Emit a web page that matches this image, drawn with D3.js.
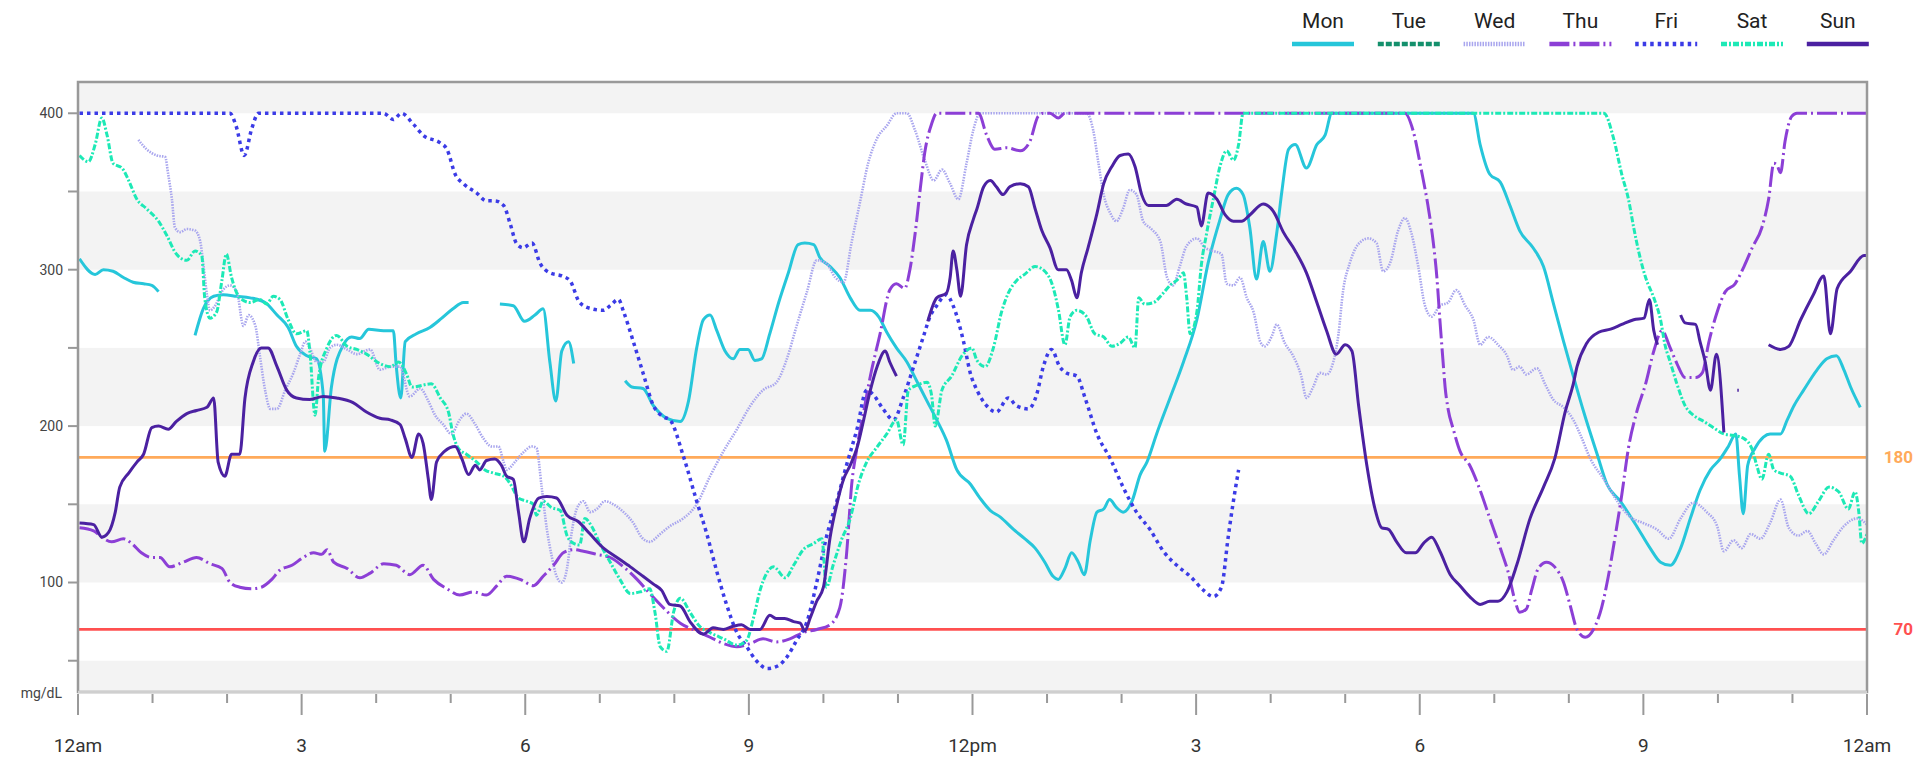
<!DOCTYPE html>
<html>
<head>
<meta charset="utf-8">
<script src="https://cdn.jsdelivr.net/npm/d3@7"></script>
<style>
  body { margin: 0; background: #fff; }
  text { font-family: Roboto, "Noto Sans", sans-serif; }
</style>
</head>
<body>
<div id="chart"></div>
<script>
// Day names, legend order
const days = ["Mon", "Tue", "Wed", "Thu", "Fri", "Sat", "Sun"];

// Readings per day: [hour of day, mg/dL]; null marks a gap in the trace
const mon = [
  [0.02,307],[0.23,297],[0.34,300],[0.47,299],[0.61,295],[0.74,292],[0.88,291],[0.99,290],[1.08,286],[1.09,null],
  [1.57,258],[1.68,275],[1.82,283],[1.95,284],[2.13,283],[2.31,282],[2.51,279],[2.67,271],[2.82,263],[2.93,251],[3.07,245],[3.2,243],[3.29,220],[3.31,184],[3.4,225],[3.56,252],[3.67,257],[3.78,256],[3.9,262],[4.1,261],[4.23,261],[4.27,238],[4.33,218],[4.39,254],[4.54,259],[4.72,263],[4.88,269],[5.03,275],[5.17,279],[5.24,279],[5.25,null],
  [5.66,278],[5.84,277],[5.99,267],[6.13,271],[6.24,275],[6.33,241],[6.41,216],[6.49,248],[6.58,254],[6.65,240],[6.66,null],
  [7.34,229],[7.43,225],[7.58,224],[7.72,213],[7.9,205],[8.08,203],[8.19,216],[8.3,250],[8.39,268],[8.48,271],[8.57,261],[8.68,248],[8.79,243],[8.88,249],[8.99,249],[9.08,242],[9.17,243],[9.28,259],[9.4,279],[9.53,298],[9.66,316],[9.75,317],[9.87,316],[9.95,308],[10.09,302],[10.22,295],[10.36,282],[10.49,274],[10.63,274],[10.74,270],[10.85,260],[10.98,250],[11.12,241],[11.25,229],[11.39,216],[11.52,204],[11.65,191],[11.79,172],[11.97,163],[12.1,154],[12.24,146],[12.37,142],[12.55,134],[12.7,128],[12.84,122],[12.97,113],[13.08,104],[13.15,102],[13.24,109],[13.33,119],[13.42,113],[13.5,105],[13.58,127],[13.67,145],[13.76,147],[13.84,153],[13.93,148],[14.02,145],[14.14,152],[14.25,169],[14.34,177],[14.47,195],[14.65,218],[14.83,241],[15.01,268],[15.16,304],[15.32,332],[15.43,348],[15.54,352],[15.63,348],[15.72,327],[15.81,294],[15.9,318],[15.99,299],[16.08,323],[16.15,350],[16.24,377],[16.33,380],[16.48,365],[16.62,380],[16.73,386],[16.82,400],[18.72,400],[18.81,380],[18.94,361],[19.08,356],[19.21,341],[19.34,325],[19.52,314],[19.66,302],[19.79,279],[19.93,254],[20.06,232],[20.2,209],[20.38,182],[20.51,163],[20.69,152],[20.91,136],[21.09,122],[21.23,113],[21.36,111],[21.5,122],[21.63,141],[21.76,159],[21.9,172],[22.03,179],[22.14,187],[22.24,195],[22.29,168],[22.34,144],[22.4,175],[22.5,186],[22.61,193],[22.7,195],[22.84,195],[22.93,204],[23.02,213],[23.15,223],[23.33,236],[23.46,243],[23.59,245],[23.69,236],[23.78,225],[23.91,212]
];

const tue = [];

const wed = [
  [0.81,383],[0.92,377],[1.06,373],[1.17,372],[1.21,361],[1.26,345],[1.3,327],[1.37,324],[1.46,326],[1.57,325],[1.64,318],[1.68,304],[1.73,284],[1.77,274],[1.84,277],[1.93,286],[2.04,290],[2.13,286],[2.22,264],[2.29,271],[2.38,264],[2.44,245],[2.51,223],[2.58,211],[2.67,211],[2.78,223],[2.89,234],[2.98,246],[3.05,254],[3.11,250],[3.2,241],[3.29,241],[3.38,250],[3.47,252],[3.61,249],[3.74,246],[3.92,249],[4.05,236],[4.19,238],[4.32,238],[4.45,219],[4.59,224],[4.7,216],[4.79,207],[4.9,201],[5.01,195],[5.12,204],[5.21,208],[5.33,201],[5.44,192],[5.55,187],[5.64,187],[5.71,177],[5.75,172],[5.86,177],[5.97,183],[6.09,187],[6.15,186],[6.22,161],[6.29,134],[6.35,118],[6.42,104],[6.49,100],[6.56,109],[6.62,131],[6.69,147],[6.78,152],[6.87,145],[6.96,147],[7.07,152],[7.18,150],[7.32,145],[7.45,138],[7.56,129],[7.67,126],[7.81,131],[7.94,136],[8.12,141],[8.3,150],[8.48,168],[8.66,184],[8.84,198],[9.02,213],[9.19,223],[9.37,228],[9.51,243],[9.64,264],[9.78,286],[9.91,306],[10.04,304],[10.16,295],[10.27,292],[10.38,318],[10.49,343],[10.6,368],[10.72,384],[10.85,392],[10.98,400],[11.12,400],[11.23,389],[11.36,370],[11.48,357],[11.59,364],[11.7,355],[11.81,345],[11.92,368],[12.01,389],[12.1,400],[13.53,400],[13.62,389],[13.69,368],[13.76,348],[13.85,336],[13.93,331],[14.02,339],[14.11,351],[14.2,348],[14.29,331],[14.4,326],[14.52,318],[14.61,295],[14.69,290],[14.78,302],[14.87,315],[15.01,320],[15.12,314],[15.23,312],[15.34,310],[15.41,291],[15.5,290],[15.59,295],[15.68,282],[15.77,273],[15.86,254],[15.92,251],[16.02,258],[16.08,265],[16.19,253],[16.3,245],[16.41,232],[16.48,218],[16.57,225],[16.66,234],[16.75,233],[16.84,241],[16.91,259],[16.97,286],[17.06,304],[17.17,316],[17.31,320],[17.42,317],[17.51,299],[17.6,304],[17.71,325],[17.8,333],[17.89,323],[17.98,302],[18.07,277],[18.16,270],[18.27,277],[18.38,279],[18.49,287],[18.61,277],[18.72,268],[18.81,252],[18.92,257],[19.05,252],[19.17,245],[19.25,236],[19.34,238],[19.43,233],[19.57,237],[19.68,227],[19.79,217],[19.93,212],[20.06,204],[20.15,195],[20.29,179],[20.47,166],[20.65,152],[20.82,142],[21.0,138],[21.18,134],[21.34,128],[21.5,141],[21.67,151],[21.85,145],[21.99,136],[22.08,120],[22.21,127],[22.32,122],[22.44,131],[22.57,128],[22.7,138],[22.84,153],[22.95,135],[23.08,130],[23.2,133],[23.31,125],[23.42,118],[23.55,127],[23.69,136],[23.87,141],[24,137]
];

const thu = [
  [0.02,135],[0.21,133],[0.32,129],[0.45,126],[0.61,128],[0.72,125],[0.85,119],[0.99,116],[1.1,116],[1.23,110],[1.41,113],[1.59,116],[1.77,112],[1.93,109],[2.04,100],[2.17,97],[2.33,96],[2.46,97],[2.6,102],[2.71,108],[2.87,111],[3.02,116],[3.16,119],[3.27,118],[3.34,121],[3.43,113],[3.61,109],[3.78,103],[3.92,106],[4.1,112],[4.27,111],[4.45,105],[4.63,111],[4.77,102],[4.95,96],[5.12,92],[5.3,94],[5.48,92],[5.62,98],[5.75,104],[5.93,102],[6.11,98],[6.24,104],[6.38,111],[6.51,119],[6.65,121],[6.78,120],[6.96,118],[7.14,116],[7.32,110],[7.5,102],[7.67,93],[7.85,84],[8.08,74],[8.3,69],[8.48,65],[8.66,61],[8.84,59],[9.02,61],[9.19,64],[9.37,62],[9.55,64],[9.73,68],[9.91,70],[10.09,73],[10.22,84],[10.31,118],[10.38,163],[10.45,186],[10.54,209],[10.63,232],[10.76,259],[10.89,287],[10.98,291],[11.09,288],[11.16,300],[11.23,323],[11.3,352],[11.36,375],[11.45,393],[11.52,400],[12.08,400],[12.19,386],[12.3,377],[12.46,378],[12.64,376],[12.77,382],[12.88,398],[12.95,400],[13.04,400],[13.15,397],[13.24,400],[17.8,400],[17.91,389],[18.02,364],[18.11,341],[18.18,318],[18.23,295],[18.27,268],[18.31,243],[18.34,225],[18.38,211],[18.45,198],[18.54,184],[18.67,175],[18.81,159],[18.94,141],[19.08,122],[19.19,106],[19.28,88],[19.34,81],[19.43,83],[19.5,95],[19.59,109],[19.7,113],[19.81,110],[19.93,100],[20.02,85],[20.11,70],[20.22,65],[20.33,70],[20.44,84],[20.53,104],[20.62,129],[20.71,156],[20.8,186],[20.91,209],[21.03,227],[21.14,248],[21.25,261],[21.36,250],[21.45,240],[21.56,231],[21.7,231],[21.79,234],[21.88,254],[21.99,273],[22.1,286],[22.23,291],[22.35,302],[22.46,314],[22.59,327],[22.68,345],[22.75,368],[22.79,367],[22.84,362],[22.9,382],[22.99,398],[23.06,400],[24,400]
];

const fri = [
  [0.02,400],[2.04,400],[2.12,392],[2.23,373],[2.33,390],[2.42,400],[4.1,400],[4.23,396],[4.34,400],[4.5,393],[4.63,386],[4.86,381],[4.95,377],[5.06,361],[5.17,355],[5.35,349],[5.48,344],[5.59,344],[5.71,341],[5.8,329],[5.88,317],[5.97,314],[6.09,317],[6.2,304],[6.33,298],[6.49,296],[6.6,293],[6.73,279],[6.89,275],[7.05,274],[7.14,277],[7.25,281],[7.32,273],[7.45,254],[7.58,234],[7.72,213],[7.85,206],[7.94,204],[8.12,181],[8.3,152],[8.43,132],[8.57,107],[8.7,86],[8.84,68],[8.97,59],[9.1,50],[9.25,45],[9.4,47],[9.52,53],[9.64,63],[9.78,75],[9.91,100],[10.04,129],[10.18,152],[10.31,175],[10.45,198],[10.58,223],[10.67,220],[10.8,211],[10.94,204],[11.07,218],[11.21,238],[11.34,257],[11.43,270],[11.52,277],[11.65,284],[11.74,277],[11.88,254],[11.97,234],[12.06,223],[12.19,213],[12.32,209],[12.48,218],[12.59,213],[12.75,211],[12.86,220],[12.95,238],[13.06,249],[13.17,238],[13.26,234],[13.4,232],[13.51,218],[13.67,195],[13.85,179],[14.02,161],[14.2,145],[14.38,134],[14.56,120],[14.74,111],[14.92,104],[15.1,95],[15.23,91],[15.34,97],[15.43,129],[15.5,152],[15.57,172]
];

const sat = [
  [0.02,373],[0.14,369],[0.23,380],[0.32,397],[0.39,386],[0.47,368],[0.59,365],[0.68,357],[0.79,345],[0.92,339],[1.08,331],[1.19,322],[1.32,310],[1.46,306],[1.57,312],[1.66,309],[1.7,282],[1.77,269],[1.86,273],[1.93,293],[1.99,310],[2.06,295],[2.17,282],[2.31,279],[2.44,281],[2.53,278],[2.62,283],[2.71,281],[2.82,268],[2.93,259],[3.07,261],[3.11,248],[3.18,207],[3.23,232],[3.34,250],[3.47,258],[3.61,251],[3.74,249],[3.87,246],[4.05,240],[4.19,238],[4.3,241],[4.41,233],[4.48,225],[4.74,227],[4.86,218],[4.97,209],[5.03,195],[5.1,186],[5.21,182],[5.35,177],[5.46,172],[5.57,170],[5.71,168],[5.8,163],[5.91,154],[6.02,152],[6.11,150],[6.15,143],[6.24,152],[6.35,148],[6.47,146],[6.56,130],[6.65,125],[6.73,124],[6.8,141],[6.89,136],[7.0,125],[7.14,113],[7.27,102],[7.41,93],[7.54,94],[7.67,96],[7.74,81],[7.81,59],[7.9,56],[7.99,81],[8.08,90],[8.21,81],[8.34,72],[8.48,68],[8.66,64],[8.84,60],[8.97,63],[9.06,77],[9.15,95],[9.24,106],[9.33,110],[9.49,103],[9.6,111],[9.73,121],[9.87,125],[9.98,128],[10.04,97],[10.13,111],[10.24,127],[10.36,141],[10.47,163],[10.58,177],[10.71,186],[10.85,195],[10.98,204],[11.07,188],[11.14,223],[11.25,226],[11.39,228],[11.45,220],[11.5,200],[11.59,223],[11.72,232],[11.86,245],[11.99,250],[12.06,242],[12.17,238],[12.28,250],[12.39,273],[12.48,285],[12.59,293],[12.7,297],[12.84,302],[12.97,299],[13.08,289],[13.15,275],[13.24,252],[13.31,270],[13.4,274],[13.53,270],[13.64,259],[13.76,257],[13.87,251],[13.98,253],[14.09,257],[14.18,250],[14.23,282],[14.31,278],[14.43,279],[14.54,284],[14.65,290],[14.76,294],[14.83,298],[14.87,284],[14.92,259],[15.01,273],[15.07,303],[15.14,323],[15.23,345],[15.32,366],[15.41,376],[15.5,370],[15.57,380],[15.63,400],[20.47,400],[20.6,384],[20.71,361],[20.8,345],[20.87,327],[20.94,311],[21.03,295],[21.14,282],[21.23,268],[21.29,252],[21.36,241],[21.45,227],[21.56,213],[21.67,207],[21.81,203],[21.94,199],[22.08,195],[22.21,194],[22.35,192],[22.46,185],[22.52,175],[22.59,166],[22.68,182],[22.75,172],[22.84,170],[22.97,168],[23.08,156],[23.22,144],[23.35,152],[23.49,161],[23.62,158],[23.75,147],[23.84,158],[23.89,145],[23.93,125],[24,131]
];

const sun = [
  [0.02,138],[0.21,137],[0.32,129],[0.41,132],[0.5,145],[0.56,161],[0.68,170],[0.79,177],[0.88,182],[0.99,199],[1.08,200],[1.21,198],[1.32,203],[1.46,208],[1.59,210],[1.73,212],[1.82,218],[1.88,177],[1.97,168],[2.06,182],[2.17,182],[2.24,218],[2.35,241],[2.46,250],[2.55,250],[2.67,238],[2.8,223],[2.93,218],[3.11,217],[3.29,219],[3.47,218],[3.69,215],[3.87,209],[4.05,205],[4.19,204],[4.32,201],[4.39,192],[4.48,180],[4.57,195],[4.63,189],[4.7,166],[4.74,153],[4.81,177],[4.92,184],[5.06,187],[5.15,179],[5.24,169],[5.33,175],[5.39,172],[5.48,178],[5.59,179],[5.68,175],[5.75,168],[5.84,166],[5.91,145],[5.98,126],[6.06,141],[6.18,154],[6.29,155],[6.42,154],[6.56,143],[6.71,139],[6.87,131],[7.05,122],[7.23,116],[7.41,110],[7.58,104],[7.72,99],[7.83,95],[7.94,86],[8.08,85],[8.21,75],[8.39,67],[8.52,71],[8.66,70],[8.79,72],[8.9,73],[9.02,70],[9.15,70],[9.28,79],[9.37,77],[9.48,77],[9.6,75],[9.69,74],[9.75,69],[9.82,77],[9.91,88],[10.0,97],[10.09,129],[10.18,150],[10.27,166],[10.36,175],[10.45,186],[10.54,204],[10.63,223],[10.72,238],[10.83,248],[10.89,241],[10.98,232],[10.99,null],
  [11.4,267],[11.52,282],[11.65,285],[11.7,295],[11.74,312],[11.79,300],[11.84,283],[11.92,316],[12.01,332],[12.06,339],[12.15,353],[12.24,357],[12.32,353],[12.41,348],[12.5,353],[12.64,355],[12.75,353],[12.84,339],[12.93,325],[13.04,314],[13.15,300],[13.26,300],[13.33,293],[13.4,282],[13.46,298],[13.55,314],[13.67,336],[13.76,355],[13.87,366],[13.98,373],[14.09,374],[14.18,366],[14.27,348],[14.36,341],[14.47,341],[14.6,341],[14.74,345],[14.87,342],[15.01,340],[15.07,328],[15.16,349],[15.28,345],[15.39,335],[15.5,331],[15.61,331],[15.72,335],[15.9,342],[16.04,337],[16.17,324],[16.33,312],[16.48,298],[16.62,279],[16.75,261],[16.88,246],[17.0,252],[17.09,248],[17.18,213],[17.29,175],[17.4,147],[17.49,135],[17.58,134],[17.69,126],[17.82,119],[17.94,119],[18.05,125],[18.16,129],[18.27,120],[18.41,105],[18.54,98],[18.67,91],[18.81,86],[18.94,88],[19.05,88],[19.17,94],[19.3,111],[19.48,141],[19.66,161],[19.81,179],[19.95,209],[20.06,227],[20.11,238],[20.24,253],[20.4,260],[20.56,262],[20.71,265],[20.87,268],[21.01,269],[21.08,281],[21.14,261],[21.19,252],[21.2,null],
  [21.5,271],[21.56,266],[21.7,265],[21.76,254],[21.83,241],[21.9,223],[21.98,246],[22.08,196],[22.09,null],
  [22.26,223],[22.28,223],[22.29,null],
  [22.68,252],[22.84,249],[22.95,251],[23.11,268],[23.28,284],[23.42,296],[23.51,259],[23.6,288],[23.78,299],[23.96,309],[24,309]
];

const series = [mon, tue, wed, thu, fri, sat, sun];

// Axis values
const yTicks = d3.range(50, 401, 50);
const yLabelValues = [100, 200, 300, 400];
const xHours = d3.range(0, 25);
const xLabels = ["12am", "3", "6", "9", "12pm", "3", "6", "9", "12am"];
const bands = [[400, 420], [300, 350], [200, 250], [100, 150], [30, 50]];
const thresholds = [180, 70];

// Styles
const colors = ["#26c6da", "#14906c", "#a9a6ee", "#8c3fd6", "#3b3be6", "#1de9b6", "#4b21a1"];
const dashes = [null, "6,2", "1.5,1.2", "20,4,2,4", "3.5,4", "6,2,2,2", null];
const widths = [3, 3, 2.6, 3, 3.5, 3, 3];
const thresholdColors = ["#ffaa5a", "#ff5050"];

const width = 1921;
const height = 760;
const plotLeft = 78, plotRight = 1867, plotTop = 82, plotBottom = 692;

const svg = d3.select("#chart").append("svg")
    .attr("width", width)
    .attr("height", height);

const x = d3.scaleLinear().domain([0, 24]).range([plotLeft, plotRight]);
const y = d3.scaleLinear().domain([30, 420]).range([plotBottom, plotTop]);

// Background bands
svg.append("g")
  .selectAll("rect")
  .data(bands)
  .enter().append("rect")
    .attr("x", plotLeft)
    .attr("width", plotRight - plotLeft)
    .attr("y", d => y(d[1]))
    .attr("height", d => y(d[0]) - y(d[1]))
    .attr("fill", "#f3f3f3");

// Threshold lines
svg.append("g")
  .selectAll("line")
  .data(thresholds)
  .enter().append("line")
    .attr("x1", plotLeft).attr("x2", plotRight)
    .attr("y1", d => y(d)).attr("y2", d => y(d))
    .attr("stroke", (d, i) => thresholdColors[i])
    .attr("stroke-width", 2.8);

svg.append("g")
  .selectAll("text")
  .data(thresholds)
  .enter().append("text")
    .attr("x", 1913)
    .attr("y", d => y(d))
    .attr("dy", "0.35em")
    .attr("text-anchor", "end")
    .attr("font-size", 17)
    .attr("font-weight", "bold")
    .attr("fill", (d, i) => thresholdColors[i])
    .text(d => d);

// Day traces
const line = d3.line()
    .defined(d => d[1] != null)
    .x(d => x(d[0]))
    .y(d => y(d[1]))
    .curve(d3.curveMonotoneX);

svg.append("defs").append("clipPath").attr("id", "clip")
  .append("rect")
    .attr("x", plotLeft).attr("y", plotTop)
    .attr("width", plotRight - plotLeft).attr("height", plotBottom - plotTop);

svg.append("g")
    .attr("clip-path", "url(#clip)")
  .selectAll("path")
  .data(series)
  .enter().append("path")
    .attr("d", d => d.length ? line(d) : null)
    .attr("fill", "none")
    .attr("stroke", (d, i) => colors[i])
    .attr("stroke-width", (d, i) => widths[i])
    .attr("stroke-dasharray", (d, i) => dashes[i])
    .attr("stroke-linejoin", "round");

// Frame
svg.append("rect")
    .attr("x", plotLeft).attr("y", plotTop)
    .attr("width", plotRight - plotLeft).attr("height", plotBottom - plotTop)
    .attr("fill", "none")
    .attr("stroke", "#999")
    .attr("stroke-width", 2.5);
svg.append("line")
    .attr("x1", plotLeft).attr("x2", plotRight)
    .attr("y1", plotBottom).attr("y2", plotBottom)
    .attr("stroke", "#cfcfcf")
    .attr("stroke-width", 2.5);

// Y axis ticks and labels
svg.append("g")
  .selectAll("line")
  .data(yTicks)
  .enter().append("line")
    .attr("x1", 68).attr("x2", plotLeft)
    .attr("y1", d => y(d)).attr("y2", d => y(d))
    .attr("stroke", "#999")
    .attr("stroke-width", 2);

svg.append("g")
  .selectAll("text")
  .data(yLabelValues)
  .enter().append("text")
    .attr("x", 63)
    .attr("y", d => y(d))
    .attr("dy", "0.35em")
    .attr("text-anchor", "end")
    .attr("font-size", 14)
    .attr("fill", "#444")
    .text(d => d);

svg.append("text")
    .attr("x", 62)
    .attr("y", 698)
    .attr("text-anchor", "end")
    .attr("font-size", 14)
    .attr("fill", "#444")
    .text("mg/dL");

// X axis ticks and labels
svg.append("g")
  .selectAll("line")
  .data(xHours)
  .enter().append("line")
    .attr("x1", d => x(d)).attr("x2", d => x(d))
    .attr("y1", plotBottom + 2)
    .attr("y2", d => d % 3 === 0 ? 715 : 703)
    .attr("stroke", "#999")
    .attr("stroke-width", 2);

svg.append("g")
  .selectAll("text")
  .data(xLabels)
  .enter().append("text")
    .attr("x", (d, i) => x(i * 3))
    .attr("y", 752)
    .attr("text-anchor", "middle")
    .attr("font-size", 19)
    .attr("fill", "#333")
    .text(d => d);

// Legend
const legend = svg.append("g")
  .selectAll("g")
  .data(days)
  .enter().append("g")
    .attr("transform", (d, i) => `translate(${1323 + i * 85.8},0)`);

legend.append("text")
    .attr("y", 28)
    .attr("text-anchor", "middle")
    .attr("font-size", 21)
    .attr("fill", "#222")
    .text(d => d);

legend.append("line")
    .attr("x1", -31).attr("x2", 31)
    .attr("y1", 44).attr("y2", 44)
    .attr("stroke", (d, i) => colors[i])
    .attr("stroke-width", 4.5)
    .attr("stroke-dasharray", (d, i) => dashes[i]);
</script>
</body>
</html>
